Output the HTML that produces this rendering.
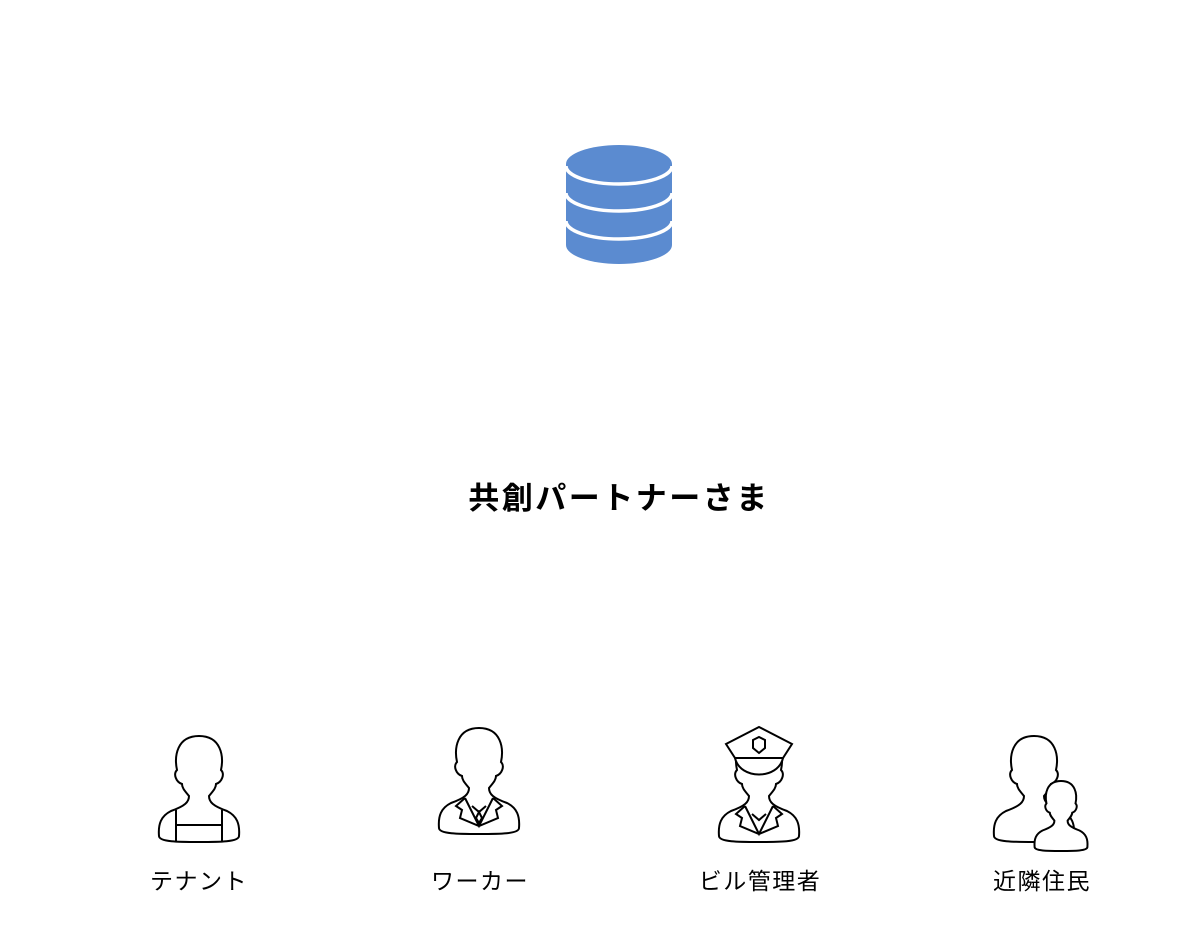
<!DOCTYPE html>
<html><head><meta charset="utf-8"><style>
body{margin:0;background:#fff;width:1192px;height:942px;overflow:hidden}
svg{position:absolute;left:0;top:0}
text{font-family:"Liberation Sans","Noto Sans CJK JP",sans-serif}
</style></head><body>
<svg width="1192" height="942" viewBox="0 0 1192 942">
<defs>
<path id="p" d="M -10,60 C -14,55 -17,52 -17,48 C -23,46 -26,38 -22,34 C -25,20 -22,0 0,0 C 22,0 25,20 22,34 C 26,38 23,46 17,48 C 17,52 14,55 10,60 C 10,66 14,70 28,75 C 38,80 41,88 40,100 C 40,106 20,106 0,106 C -20,106 -40,106 -40,100 C -41,88 -38,80 -28,75 C -14,70 -10,66 -10,60 Z"/>
</defs>
<g fill="#5b8bd0">
<path d="M566,164 L566,245 A53,19 0 0 0 672,245 L672,164 Z"/>
<ellipse cx="619" cy="164" rx="53" ry="19"/>
</g>
<g fill="none" stroke="#fff" stroke-width="3.5">
<path d="M566,166 A53,18 0 0 0 672,166"/>
<path d="M566,193 A53,18 0 0 0 672,193"/>
<path d="M566,221 A53,18 0 0 0 672,221"/>
</g>
<text x="619" y="509" font-size="31" font-weight="bold" text-anchor="middle" letter-spacing="2.5">共創パートナーさま</text>
<g fill="#fff" stroke="#000" stroke-width="2">
<use href="#p" x="199" y="736"/>
<path d="M176,810 V842 M222,810 V842 M176,825 H222"/>
<use href="#p" x="479" y="728"/>
<path d="M465,798 L456,806 L462,810 L460,818 L479,826 L498,818 L496,810 L502,806 L493,798 M465,798 L479,826 L493,798 M472,806 L479,812 L486,806 M479,812 L476,818 L479,823 L482,818 Z"/>
<use href="#p" x="759" y="736"/>
<path d="M735,758 C740,780 778,780 783,758" />
<path d="M735,758 L726,744 L759,727 L792,744 L783,758 Z"/>
<path d="M753,740 L759,737 L765,740 L765,748 L759,753 L753,748 Z"/>
<path d="M745,806 L736,814 L742,818 L740,826 L759,834 L778,826 L776,818 L782,814 L773,806 M745,806 L759,834 L773,806 M752,814 L759,820 L766,814"/>
<use href="#p" x="1034" y="736"/>
<g transform="translate(1061 781) scale(0.66)"><use href="#p" stroke-width="3"/></g>
</g>
<g font-size="23" text-anchor="middle" fill="#000" letter-spacing="1.5">
<text x="199" y="889">テナント</text>
<text x="480" y="889">ワーカー</text>
<text x="760" y="889">ビル管理者</text>
<text x="1042" y="889">近隣住民</text>
</g>
</svg>
</body></html>
